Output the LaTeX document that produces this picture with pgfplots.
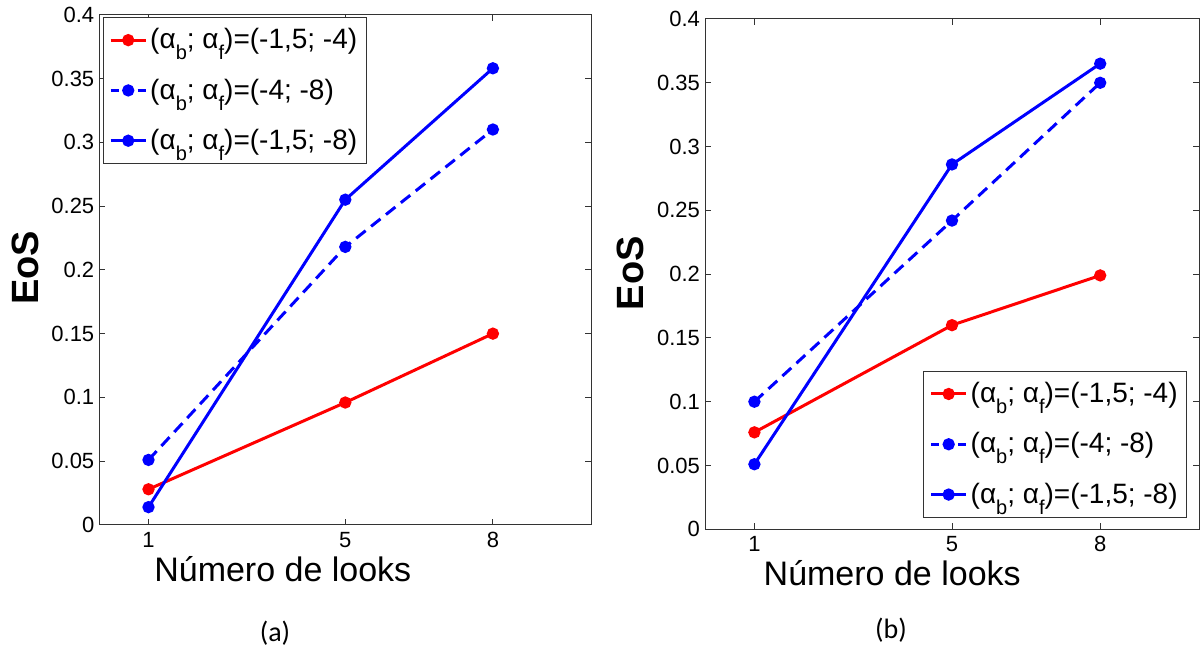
\documentclass[border=0pt]{standalone}
\usepackage{pgfplots}
\pgfplotsset{compat=1.18}
\usepackage{fontspec}
\setmainfont{Liberation Sans}
\newfontfamily\calfont{Carlito}
\definecolor{mblue}{RGB}{0,0,255}
\definecolor{mred}{RGB}{255,0,0}
\newcommand\sub[1]{\raisebox{-5.5pt}{\fontsize{10}{11}\selectfont #1}}
\newcommand\lab[1]{(α\sub{b}; α\sub{f})=#1}
\begin{document}
\begin{tikzpicture}
\useasboundingbox (0,0) rectangle (600pt,326pt);
\pgfplotsset{
  myax/.style={
    scale only axis, height=255.15pt,
    xmin=0, xmax=10, ymin=0, ymax=0.4,
    xtick={1,5,8},
    ytick={0,0.05,0.1,0.15,0.2,0.25,0.3,0.35,0.4},
    yticklabels={0,0.05,0.1,0.15,0.2,0.25,0.3,0.35,0.4},
    scaled y ticks=false,
    tick align=inside, major tick length=3pt,
    axis line style={black!80, line width=0.5pt},
    tick style={black!80, line width=0.5pt},
    /pgf/number format/assume math mode=true,
    ticklabel style={font=\fontsize{11}{13}\selectfont},
    yticklabel style={xshift=1pt},
    xlabel style={font=\fontsize{17}{19}\selectfont},
    ylabel style={font=\fontsize{19}{21}\selectfont\bfseries},
    legend cell align=left,
    legend style={font=\fontsize{14}{16}\selectfont, draw=black!80, line width=0.5pt,
      inner xsep=3pt, inner ysep=3.5pt, row sep=9.5pt,
      nodes={inner xsep=1.5pt}},
  },
  rline/.style={color=mred, line width=1.5pt, mark=*, mark size=2.3pt, mark options={solid},
    legend image code/.code={\draw[mark repeat=2,mark phase=2,##1] plot coordinates {(0pt,0pt) (8.75pt,0pt) (17.5pt,0pt)};}},
  dline/.style={color=mblue, line width=1.5pt, dash pattern=on 6pt off 3.5pt, mark=*, mark size=2.3pt, mark options={solid},
    legend image code/.code={\draw[mark repeat=2,mark phase=2,##1,dash pattern=on 4pt off 9.5pt] plot coordinates {(0pt,0pt) (8.75pt,0pt) (17.5pt,0pt)};}},
  bline/.style={color=mblue, line width=1.5pt, mark=*, mark size=2.3pt, mark options={solid},
    legend image code/.code={\draw[mark repeat=2,mark phase=2,##1] plot coordinates {(0pt,0pt) (8.75pt,0pt) (17.5pt,0pt)};}},
}
\begin{axis}[myax, width=246pt, at={(49.65pt,63.5pt)}, anchor=south west,
  xlabel={Número de looks}, ylabel={EoS},
  xlabel style={at={(axis description cs:0.373,-0.11)}, anchor=base},
  ylabel style={at={(axis description cs:-0.151,0.504)}, anchor=center},
  legend style={at={(axis description cs:0.007,0.9955)}, anchor=north west}]
\addplot[rline] coordinates {(1,0.028) (5,0.096) (8,0.150)};
\addlegendentry{\lab{(-1,5; -4)}}
\addplot[dline] coordinates {(1,0.051) (5,0.218) (8,0.310)};
\addlegendentry{\lab{(-4; -8)}}
\addplot[bline] coordinates {(1,0.014) (5,0.255) (8,0.358)};
\addlegendentry{\lab{(-1,5; -8)}}
\end{axis}
\begin{axis}[myax, width=247pt, at={(352.5pt,61.35pt)}, anchor=south west,
  xlabel={Número de looks}, ylabel={EoS},
  xlabel style={at={(axis description cs:0.379,-0.11)}, anchor=base},
  ylabel style={at={(axis description cs:-0.150,0.502)}, anchor=center},
  legend style={at={(axis description cs:0.976,0.0227)}, anchor=south east}]
\addplot[rline] coordinates {(1,0.076) (5,0.160) (8,0.199)};
\addlegendentry{\lab{(-1,5; -4)}}
\addplot[dline] coordinates {(1,0.100) (5,0.242) (8,0.350)};
\addlegendentry{\lab{(-4; -8)}}
\addplot[bline] coordinates {(1,0.051) (5,0.286) (8,0.365)};
\addlegendentry{\lab{(-1,5; -8)}}
\end{axis}
\node[font=\calfont\fontsize{14}{16}\selectfont] at (137.5pt,9.5pt) {(a)};
\node[font=\calfont\fontsize{14}{16}\selectfont] at (445.5pt,11pt) {(b)};
\end{tikzpicture}
\end{document}
